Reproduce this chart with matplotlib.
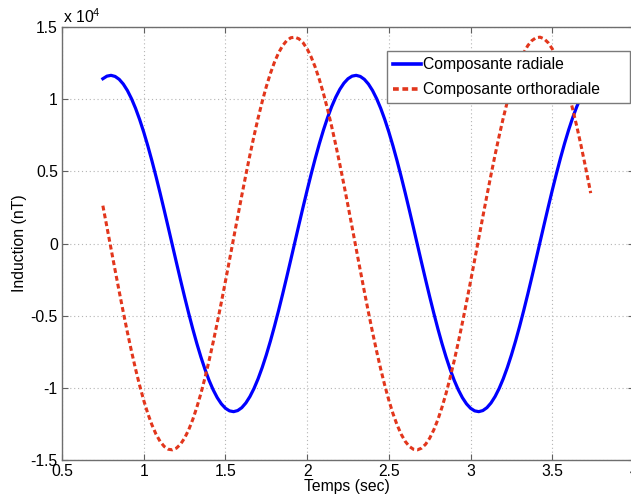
"""
Induction components vs time -- MATLAB-style line chart.
"""

import matplotlib

matplotlib.use("Agg")
import matplotlib.pyplot as plt

# --------------------------------------------------------------------------- #
# Data, nT vs seconds
# --------------------------------------------------------------------------- #
temps = [0.750, 0.775, 0.800, 0.825, 0.850, 0.875, 0.900, 0.925, 0.950, 0.975,
         1.000, 1.025, 1.050, 1.075, 1.100, 1.125, 1.150, 1.175, 1.200, 1.225,
         1.250, 1.275, 1.300, 1.325, 1.350, 1.375, 1.400, 1.425, 1.450, 1.475,
         1.500, 1.525, 1.550, 1.575, 1.600, 1.625, 1.650, 1.675, 1.700, 1.725,
         1.750, 1.775, 1.800, 1.825, 1.850, 1.875, 1.900, 1.925, 1.950, 1.975,
         2.000, 2.025, 2.050, 2.075, 2.100, 2.125, 2.150, 2.175, 2.200, 2.225,
         2.250, 2.275, 2.300, 2.325, 2.350, 2.375, 2.400, 2.425, 2.450, 2.475,
         2.500, 2.525, 2.550, 2.575, 2.600, 2.625, 2.650, 2.675, 2.700, 2.725,
         2.750, 2.775, 2.800, 2.825, 2.850, 2.875, 2.900, 2.925, 2.950, 2.975,
         3.000, 3.025, 3.050, 3.075, 3.100, 3.125, 3.150, 3.175, 3.200, 3.225,
         3.250, 3.275, 3.300, 3.325, 3.350, 3.375, 3.400, 3.425, 3.450, 3.475,
         3.500, 3.525, 3.550, 3.575, 3.600, 3.625, 3.650, 3.675, 3.700, 3.725,
         3.735]

radiale = [11416, 11596, 11650, 11575, 11375, 11049, 10603, 10040, 9368, 8592,
           7722, 6769, 5740, 4649, 3508, 2327, 1121, -98, -1315, -2518,
           -3693, -4827, -5910, -6927, -7867, -8722, -9483, -10137, -10682, -11109,
           -11416, -11596, -11650, -11575, -11375, -11049, -10603, -10040, -9368, -8592,
           -7722, -6769, -5740, -4649, -3508, -2327, -1121, 98, 1315, 2518,
           3693, 4827, 5910, 6927, 7867, 8722, 9483, 10137, 10682, 11109,
           11416, 11596, 11650, 11575, 11375, 11049, 10603, 10040, 9368, 8592,
           7722, 6769, 5740, 4649, 3508, 2327, 1121, -98, -1315, -2518,
           -3693, -4827, -5910, -6927, -7867, -8722, -9483, -10137, -10682, -11109,
           -11416, -11596, -11650, -11575, -11375, -11049, -10603, -10040, -9368, -8592,
           -7722, -6769, -5740, -4649, -3508, -2327, -1121, 98, 1315, 2518,
           3693, 4827, 5910, 6927, 7867, 8722, 9483, 10137, 10682, 11109,
           11247]

orthoradiale = [2621, 1137, -359, -1852, -3323, -4759, -6142, -7457, -8694, -9831,
                -10865, -11777, -12560, -13206, -13707, -14058, -14254, -14296, -14180, -13908,
                -13485, -12913, -12201, -11351, -10385, -9299, -8112, -6835, -5485, -4076,
                -2621, -1137, 359, 1852, 3323, 4759, 6142, 7457, 8694, 9831,
                10865, 11777, 12560, 13206, 13707, 14058, 14254, 14296, 14180, 13908,
                13485, 12913, 12201, 11351, 10385, 9299, 8112, 6835, 5485, 4076,
                2621, 1137, -359, -1852, -3323, -4759, -6142, -7457, -8694, -9831,
                -10865, -11777, -12560, -13206, -13707, -14058, -14254, -14296, -14180, -13908,
                -13485, -12913, -12201, -11351, -10385, -9299, -8112, -6835, -5485, -4076,
                -2621, -1137, 359, 1852, 3323, 4759, 6142, 7457, 8694, 9831,
                10865, 11777, 12560, 13206, 13707, 14058, 14254, 14296, 14180, 13908,
                13485, 12913, 12201, 11351, 10385, 9299, 8112, 6835, 5485, 4076,
                3490]

xticks = [0.5, 1, 1.5, 2, 2.5, 3, 3.5, 4]
xticklabels = ["0.5", "1", "1.5", "2", "2.5", "3", "3.5", "4"]
yticks = [-15000, -10000, -5000, 0, 5000, 10000, 15000]
yticklabels = ["-1.5", "-1", "-0.5", "0", "0.5", "1", "1.5"]

# --------------------------------------------------------------------------- #
# Style
# --------------------------------------------------------------------------- #
FS = 11.3
plt.rcParams["font.family"] = ["Liberation Sans", "DejaVu Sans"]
plt.rcParams["font.size"] = FS
plt.rcParams["mathtext.fontset"] = "custom"
plt.rcParams["mathtext.rm"] = "Liberation Sans"
plt.rcParams["axes.unicode_minus"] = False

W, H = 631, 495
fig = plt.figure(figsize=(W / 100, H / 100), dpi=100)
ax = fig.add_axes([62 / W, 1 - 460 / H, (634 - 62) / W, (460 - 27) / H])

ax.plot(temps, radiale, color="#0000ff", lw=2.3, label="Composante radiale",
        solid_joinstyle="round")
ax.plot(temps, orthoradiale, color="#e2361c", lw=2.2, dashes=(1.6, 1.0),
        label="Composante orthoradiale")

ax.set_xlim(0.5, 4)
ax.set_ylim(-15000, 15000)
ax.set_xticks(xticks)
ax.set_xticklabels(xticklabels)
ax.set_yticks(yticks)
ax.set_yticklabels(yticklabels)

ax.grid(True, color="#b4b4b4", lw=0.8, linestyle=(0, (1, 2.5)))
ax.tick_params(direction="in", length=4, width=0.8, color="#606060",
               top=True, right=True, pad=3, labelsize=FS)
for sp in ax.spines.values():
    sp.set_color("#6e6e6e")
    sp.set_linewidth(1.0)

fig.text(20 / W, 1 - 243 / H, "Induction (nT)", rotation=90,
         ha="center", va="center", fontsize=FS)
fig.text(347 / W, 1 - 486 / H, "Temps (sec)", ha="center", va="center", fontsize=FS)
fig.text(63 / W, 1 - 23 / H, r"x 10$^{4}$", ha="left", va="baseline", fontsize=FS)

leg = ax.legend(loc="upper left", mode="expand",
                bbox_to_anchor=(387 / W, 1 - 108 / H, (630 - 387) / W, (108 - 51) / H),
                bbox_transform=fig.transFigure, fancybox=False, framealpha=1,
                edgecolor="#7a7a7a", handlelength=1.75, handletextpad=0.15,
                labelspacing=0.62, borderpad=0.4, borderaxespad=0, fontsize=FS)
leg.get_frame().set_linewidth(1.0)
for line in leg.get_lines():
    line.set_linewidth(2.6)

fig.savefig("out.png", dpi=100)
